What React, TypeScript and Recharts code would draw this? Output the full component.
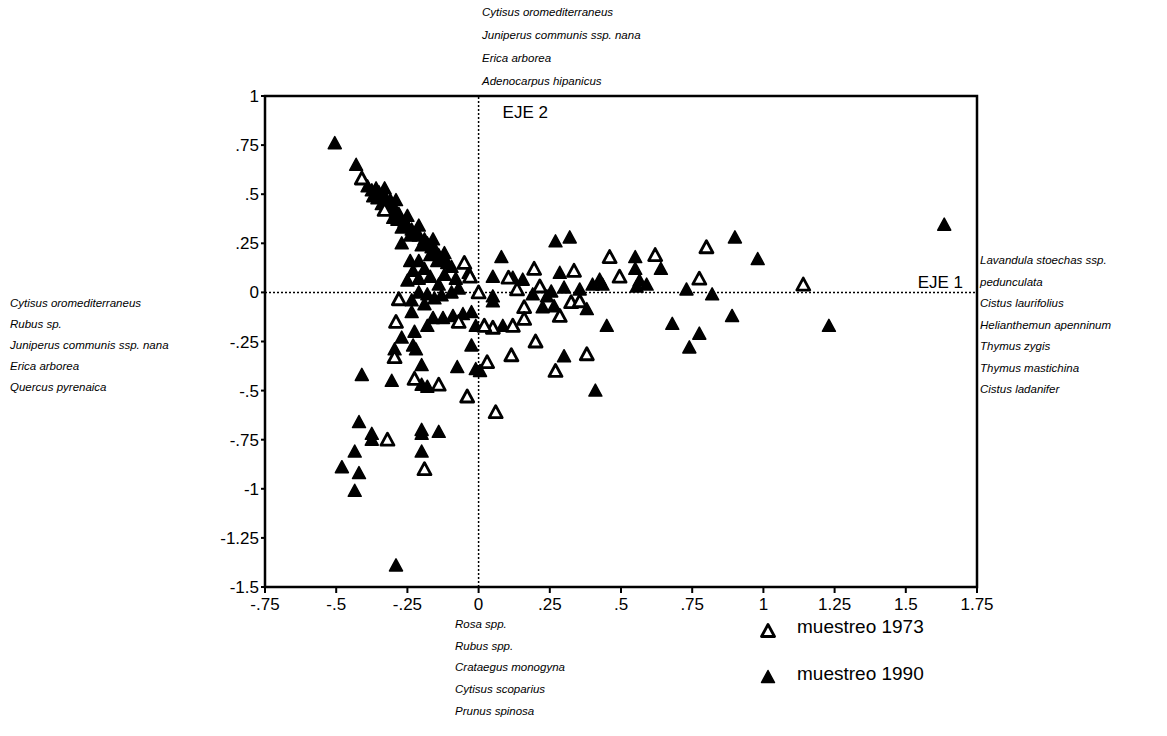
import { ScatterChart, Scatter, XAxis, YAxis, ReferenceLine, ReferenceArea, Label } from "recharts"

const muestreo1973 = [
  { x: -0.05, y: 0.15 }, { x: -0.03, y: 0.08 }, { x: 0.0, y: 0.0 }, { x: -0.28, y: -0.035 },
  { x: -0.29, y: -0.15 }, { x: -0.295, y: -0.33 }, { x: -0.07, y: -0.15 }, { x: -0.14, y: -0.47 },
  { x: 0.05, y: -0.18 }, { x: 0.03, y: -0.355 }, { x: -0.04, y: -0.53 }, { x: 0.06, y: -0.61 },
  { x: -0.32, y: -0.75 }, { x: -0.19, y: -0.9 }, { x: -0.225, y: -0.44 }, { x: 0.46, y: 0.18 },
  { x: 0.62, y: 0.19 }, { x: 0.8, y: 0.23 }, { x: 0.775, y: 0.07 }, { x: 1.14, y: 0.04 },
  { x: 0.495, y: 0.08 }, { x: 0.335, y: 0.11 }, { x: 0.195, y: 0.12 }, { x: 0.105, y: 0.075 },
  { x: 0.135, y: 0.015 }, { x: 0.215, y: 0.03 }, { x: 0.16, y: -0.075 }, { x: 0.16, y: -0.135 },
  { x: 0.285, y: -0.12 }, { x: 0.325, y: -0.05 }, { x: 0.355, y: -0.045 }, { x: 0.12, y: -0.17 },
  { x: 0.02, y: -0.17 }, { x: 0.2, y: -0.25 }, { x: 0.115, y: -0.32 }, { x: 0.38, y: -0.315 },
  { x: 0.27, y: -0.4 }, { x: -0.41, y: 0.58 }, { x: -0.33, y: 0.42 },
]

const muestreo1990 = [
  // diagonal band
  { x: -0.505, y: 0.76 }, { x: -0.43, y: 0.65 }, { x: -0.39, y: 0.54 }, { x: -0.375, y: 0.52 },
  { x: -0.36, y: 0.53 }, { x: -0.35, y: 0.51 }, { x: -0.355, y: 0.48 }, { x: -0.33, y: 0.49 },
  { x: -0.325, y: 0.46 }, { x: -0.31, y: 0.47 }, { x: -0.32, y: 0.43 }, { x: -0.3, y: 0.44 },
  { x: -0.29, y: 0.41 }, { x: -0.28, y: 0.4 }, { x: -0.285, y: 0.37 }, { x: -0.26, y: 0.36 },
  { x: -0.25, y: 0.34 }, { x: -0.235, y: 0.32 }, { x: -0.22, y: 0.31 }, { x: -0.21, y: 0.29 },
  { x: -0.19, y: 0.27 }, { x: -0.18, y: 0.25 }, { x: -0.165, y: 0.23 }, { x: -0.15, y: 0.21 },
  { x: -0.14, y: 0.19 }, { x: -0.12, y: 0.17 }, { x: -0.11, y: 0.15 }, { x: -0.095, y: 0.13 },
  { x: -0.145, y: 0.16 }, { x: -0.17, y: 0.19 }, { x: -0.27, y: 0.25 },
  { x: -0.37, y: 0.49 }, { x: -0.34, y: 0.45 }, { x: -0.3, y: 0.38 }, { x: -0.27, y: 0.33 },
  { x: -0.24, y: 0.29 }, { x: -0.2, y: 0.24 }, { x: -0.33, y: 0.53 }, { x: -0.29, y: 0.47 },
  { x: -0.25, y: 0.39 }, { x: -0.21, y: 0.34 }, { x: -0.16, y: 0.27 }, { x: -0.12, y: 0.2 },
  // cluster near origin
  { x: -0.24, y: 0.16 }, { x: -0.21, y: 0.16 }, { x: -0.23, y: 0.11 }, { x: -0.19, y: 0.12 },
  { x: -0.25, y: 0.06 }, { x: -0.21, y: 0.07 }, { x: -0.17, y: 0.08 }, { x: -0.14, y: 0.04 },
  { x: -0.12, y: 0.09 }, { x: -0.08, y: 0.07 }, { x: -0.07, y: 0.02 }, { x: -0.21, y: 0.0 },
  { x: -0.18, y: -0.01 }, { x: -0.235, y: -0.04 }, { x: -0.19, y: -0.06 }, { x: -0.155, y: -0.03 },
  { x: -0.13, y: -0.015 }, { x: -0.095, y: 0.0 }, { x: -0.035, y: 0.1 },
  // row below zero
  { x: -0.16, y: -0.13 }, { x: -0.125, y: -0.13 }, { x: -0.09, y: -0.12 }, { x: -0.055, y: -0.11 },
  { x: -0.025, y: -0.1 }, { x: -0.235, y: -0.1 }, { x: -0.225, y: -0.2 }, { x: -0.18, y: -0.17 },
  { x: -0.27, y: -0.23 }, { x: -0.295, y: -0.29 }, { x: -0.23, y: -0.27 }, { x: -0.22, y: -0.29 },
  { x: -0.2, y: -0.37 }, { x: -0.305, y: -0.45 }, { x: -0.41, y: -0.42 }, { x: -0.2, y: -0.47 },
  { x: -0.18, y: -0.48 }, { x: -0.075, y: -0.38 }, { x: -0.01, y: -0.39 }, { x: -0.025, y: -0.27 },
  { x: -0.01, y: -0.17 },
  // lower left
  { x: -0.42, y: -0.66 }, { x: -0.375, y: -0.72 }, { x: -0.375, y: -0.75 }, { x: -0.2, y: -0.7 },
  { x: -0.2, y: -0.72 }, { x: -0.14, y: -0.71 }, { x: -0.435, y: -0.81 }, { x: -0.2, y: -0.81 },
  { x: -0.48, y: -0.89 }, { x: -0.42, y: -0.92 }, { x: -0.435, y: -1.01 }, { x: -0.29, y: -1.39 },
  // right side
  { x: 0.27, y: 0.26 }, { x: 0.32, y: 0.28 }, { x: 0.08, y: 0.18 }, { x: 0.55, y: 0.18 },
  { x: 0.64, y: 0.12 }, { x: 0.55, y: 0.12 }, { x: 0.565, y: 0.06 }, { x: 0.59, y: 0.04 },
  { x: 0.555, y: 0.03 }, { x: 0.9, y: 0.28 }, { x: 0.73, y: 0.015 }, { x: 0.82, y: -0.01 },
  { x: 0.89, y: -0.12 }, { x: 0.68, y: -0.16 }, { x: 0.775, y: -0.21 }, { x: 0.74, y: -0.28 },
  { x: 0.45, y: -0.17 }, { x: 0.425, y: 0.065 }, { x: 0.435, y: 0.04 }, { x: 0.4, y: 0.04 },
  { x: 0.285, y: 0.1 }, { x: 0.3, y: 0.025 }, { x: 0.355, y: 0.015 }, { x: 0.255, y: 0.005 },
  { x: 0.155, y: 0.065 }, { x: 0.12, y: 0.075 }, { x: 0.05, y: 0.08 }, { x: 0.05, y: -0.02 },
  { x: 0.05, y: -0.045 }, { x: 0.19, y: -0.01 }, { x: 0.24, y: -0.02 }, { x: 0.225, y: -0.075 },
  { x: 0.265, y: -0.07 }, { x: 0.38, y: -0.085 }, { x: 0.085, y: -0.17 }, { x: 0.3, y: -0.325 },
  { x: 0.98, y: 0.17 }, { x: 1.635, y: 0.345 }, { x: 1.23, y: -0.17 }, { x: 0.41, y: -0.5 },
  { x: 0.005, y: -0.4 },
]

const xTicks = [-0.75, -0.5, -0.25, 0, 0.25, 0.5, 0.75, 1, 1.25, 1.5, 1.75]
const yTicks = [1, 0.75, 0.5, 0.25, 0, -0.25, -0.5, -0.75, -1, -1.25, -1.5]

const topSpecies = ["Cytisus oromediterraneus", "Juniperus communis ssp. nana", "Erica arborea", "Adenocarpus hipanicus"]
const leftSpecies = ["Cytisus oromediterraneus", "Rubus sp.", "Juniperus communis ssp. nana", "Erica arborea", "Quercus pyrenaica"]
const rightSpecies = [
  "Lavandula stoechas ssp.", "pedunculata", "Cistus laurifolius", "Helianthemun apenninum",
  "Thymus zygis", "Thymus mastichina", "Cistus ladanifer",
]
const bottomSpecies = ["Rosa spp.", "Rubus spp.", "Crataegus monogyna", "Cytisus scoparius", "Prunus spinosa"]

const fmt = (v: number) => (v === 0 ? "0" : String(v).replace("0.", "."))

const font = "'Liberation Sans', Arial, sans-serif"

function Tri({ cx, cy, open }: { cx?: number; cy?: number; open?: boolean }) {
  if (cx == null || cy == null) return null
  const d = `M${cx},${cy - 6.5} L${cx + 6.5},${cy + 5.5} L${cx - 6.5},${cy + 5.5} Z`
  return open ? (
    <path d={d} fill="#fff" stroke="#000" strokeWidth={2.8} strokeLinejoin="round" />
  ) : (
    <path d={d} fill="#000" stroke="#000" strokeWidth={1.5} strokeLinejoin="round" />
  )
}

function SpeciesList({ items, left, top, gap }: { items: string[]; left: number; top: number; gap: number }) {
  return (
    <>
      {items.map((s, i) => (
        <div
          key={i}
          style={{
            position: "absolute", left, top: top + i * gap, fontFamily: font, fontStyle: "italic",
            fontSize: 11.5, whiteSpace: "nowrap", lineHeight: "14px", color: "#000",
          }}
        >
          {s}
        </div>
      ))}
    </>
  )
}

export default function App() {
  return (
    <div style={{ position: "absolute", left: 0, top: 0, width: 1167, height: 736, background: "#fff" }}>
      <ScatterChart width={1167} height={736} margin={{ top: 96, right: 190, bottom: 119, left: 205 }}>
        <XAxis
          type="number" dataKey="x" domain={[-0.75, 1.75]} ticks={xTicks} tickFormatter={fmt}
          height={30} axisLine={false} tickLine={{ stroke: "#000", strokeWidth: 2 }} tickSize={6}
          tick={{ fill: "#000", fontSize: 17, fontFamily: font, dy: 3 }} interval={0} allowDataOverflow
        />
        <YAxis
          type="number" dataKey="y" domain={[-1.5, 1]} ticks={yTicks} tickFormatter={fmt}
          width={60} axisLine={false} tickLine={{ stroke: "#000", strokeWidth: 2 }} tickSize={4}
          tick={{ fill: "#000", fontSize: 17, fontFamily: font }} interval={0} allowDataOverflow
        />
        <ReferenceArea x1={-0.75} x2={1.75} y1={-1.5} y2={1} fill="none" stroke="#000" strokeWidth={2.5} ifOverflow="visible" />
        <ReferenceLine x={0} stroke="#000" strokeDasharray="2 2" strokeWidth={1.5}>
          <Label value="EJE 2" position="insideTopLeft" offset={10} dx={14} fill="#000" fontSize={17} fontFamily={font} />
        </ReferenceLine>
        <ReferenceLine y={0} stroke="#000" strokeDasharray="2 2" strokeWidth={1.5}>
          <Label value="EJE 1" position="insideBottomRight" offset={4} dx={-10} fill="#000" fontSize={17} fontFamily={font} />
        </ReferenceLine>
        <Scatter name="muestreo 1990" data={muestreo1990} isAnimationActive={false} shape={(p: any) => <Tri cx={p.cx} cy={p.cy} />} />
        <Scatter name="muestreo 1973" data={muestreo1973} isAnimationActive={false} shape={(p: any) => <Tri cx={p.cx} cy={p.cy} open />} />
      </ScatterChart>

      <SpeciesList items={topSpecies} left={482} top={5} gap={23} />
      <SpeciesList items={leftSpecies} left={10} top={296} gap={21} />
      <SpeciesList items={rightSpecies} left={980} top={253} gap={21.5} />
      <SpeciesList items={bottomSpecies} left={455} top={617} gap={21.7} />

      <svg style={{ position: "absolute", left: 0, top: 0 }} width={1167} height={736}>
        <Tri cx={768} cy={631} open />
        <Tri cx={768} cy={677} />
        <text x={797} y={633} fontFamily={font} fontSize={19} fill="#000">muestreo 1973</text>
        <text x={797} y={680} fontFamily={font} fontSize={19} fill="#000">muestreo 1990</text>
      </svg>
    </div>
  )
}
